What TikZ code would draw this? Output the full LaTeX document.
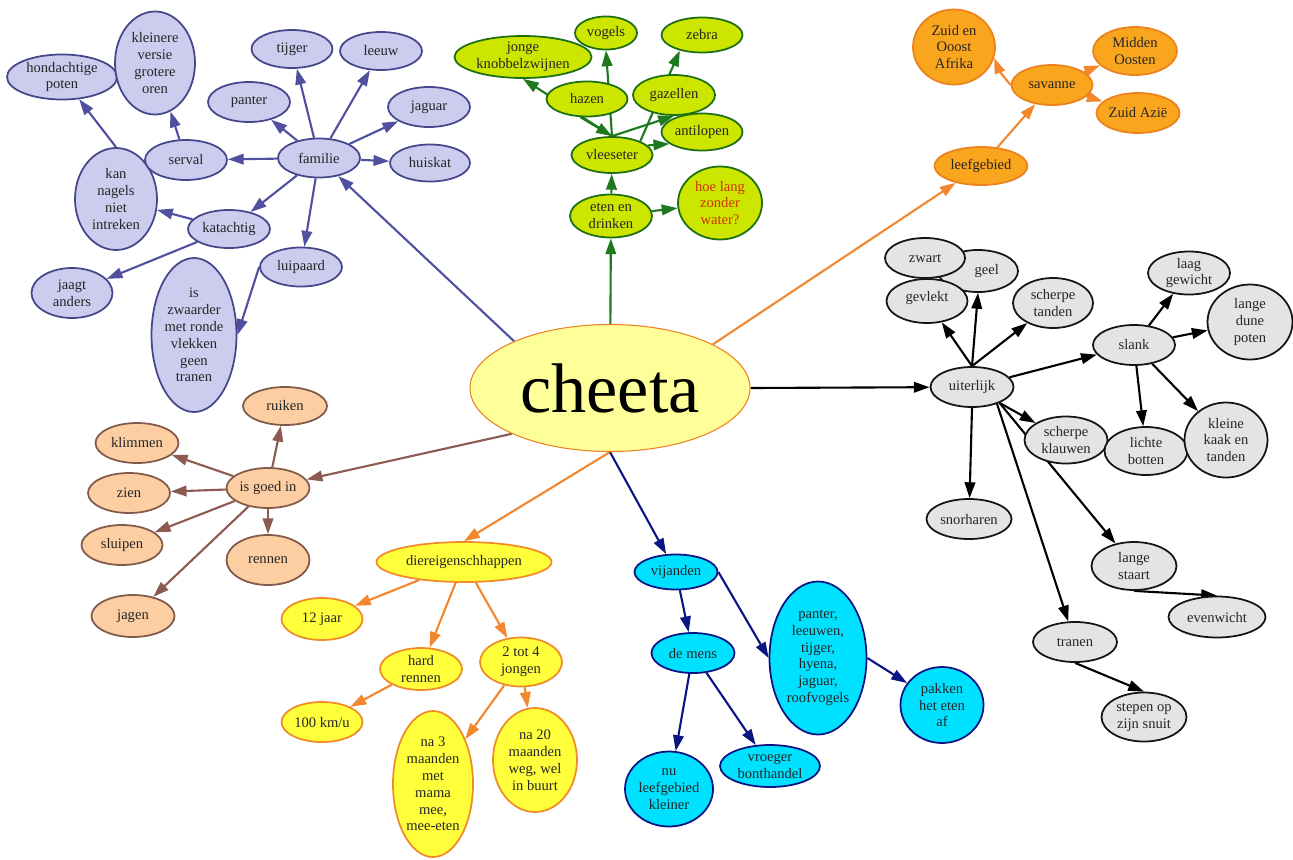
\documentclass[tikz,border=0pt]{standalone}
\usepackage{fontspec}
\setmainfont{Liberation Serif}
\usetikzlibrary{shapes.geometric,arrows.meta,backgrounds}
\definecolor{puF}{RGB}{204,204,238}
\definecolor{puD}{RGB}{70,70,140}
\definecolor{puE}{RGB}{80,80,160}
\definecolor{grF}{RGB}{204,230,0}
\definecolor{grD}{RGB}{30,110,20}
\definecolor{grE}{RGB}{30,120,30}
\definecolor{orF}{RGB}{250,165,30}
\definecolor{orD}{RGB}{235,130,30}
\definecolor{orE}{RGB}{242,135,45}
\definecolor{gyF}{RGB}{228,228,228}
\definecolor{gyD}{RGB}{20,20,20}
\definecolor{peF}{RGB}{252,206,162}
\definecolor{peD}{RGB}{130,90,75}
\definecolor{peE}{RGB}{140,90,80}
\definecolor{yeF}{RGB}{255,255,60}
\definecolor{yeD}{RGB}{240,140,40}
\definecolor{chF}{RGB}{255,255,153}
\definecolor{cyF}{RGB}{0,225,255}
\definecolor{cyD}{RGB}{10,20,130}
\definecolor{redT}{RGB}{210,50,10}
\tikzset{
  base/.style={ellipse, inner sep=0pt, align=center, font=\fontsize{8.3}{9.6}\selectfont, text=black!85, line width=1pt},
  sz/.style 2 args={minimum width={#1*0.02cm}, minimum height={#2*0.02cm}},
  pu/.style={base, draw=puD, fill=puF},
  gr/.style={base, draw=grD, fill=grF},
  orn/.style={base, draw=orD, fill=orF},
  gy/.style={base, draw=gyD, fill=gyF},
  pe/.style={base, draw=peD, fill=peF},
  ye/.style={base, draw=yeD, fill=yeF},
  cy/.style={base, draw=cyD, fill=cyF},
  tip/.style={-{Triangle[length=9pt,width=6pt]}},
  epu/.style={tip, draw=puE, fill=puE, line width=1.2pt},
  egr/.style={tip, draw=grE, fill=grE, line width=1.2pt},
  eor/.style={tip, draw=orE, fill=orE, line width=1.2pt},
  egy/.style={tip, draw=black, fill=black, line width=1.2pt},
  epe/.style={tip, draw=peE, fill=peE, line width=1.2pt},
  eye/.style={tip, draw=orE, fill=orE, line width=1.2pt},
  ecy/.style={tip, draw=cyD, fill=cyD, line width=1.2pt},
}
\begin{document}
\begin{tikzpicture}[x=0.02cm,y=-0.02cm]
\useasboundingbox (0,0) rectangle (1293,859);
% centre
\node[ellipse, draw=orD, fill=chF, line width=0.6pt, inner sep=0pt, sz={280}{127}, font=\fontsize{40}{44}\selectfont] (ch) at (610,388) {cheeta};
% purple
\node[pu,sz={110}{45}] (hond) at (62,77) {hondachtige\\poten};
\node[pu,sz={80}{103}] (klein) at (155,63) {kleinere\\versie\\grotere\\oren};
\node[pu,sz={81}{38}] (tij) at (292,49) {tijger};
\node[pu,sz={82}{38}] (leeuw) at (381,51) {leeuw};
\node[pu,sz={82}{40}] (pant) at (249,102) {panter};
\node[pu,sz={82}{40}] (jag1) at (429,107) {jaguar};
\node[pu,sz={80}{37}] (huis) at (430,163) {huiskat};
\node[pu,sz={82}{102}] (kan) at (116,199) {kan\\nagels\\niet\\intreken};
\node[pu,sz={82}{40}] (serv) at (186,160) {serval};
\node[pu,sz={82}{39}] (fam) at (319,158) {familie};
\node[pu,sz={82}{38}] (kat) at (229,229) {katachtig};
\node[pu,sz={82}{39}] (luip) at (301,267) {luipaard};
\node[pu,sz={81}{50}] (jaagt) at (72,293) {jaagt\\anders};
\node[pu,sz={85}{154}] (zw) at (194,335) {is\\zwaarder\\met ronde\\vlekken\\geen\\tranen};
% green
\node[gr,sz={137}{42}] (jk) at (523,57) {jonge\\knobbelzwijnen};
\node[gr,sz={62}{33}] (vog) at (606,33) {vogels};
\node[gr,sz={81}{35}] (zeb) at (702,35) {zebra};
\node[gr,sz={81}{35}] (haz) at (587,99) {hazen};
\node[gr,sz={82}{40}] (gaz) at (674,95) {gazellen};
\node[gr,sz={81}{37}] (ant) at (702,132) {antilopen};
\node[gr,sz={81}{36}] (vle) at (612,155) {vleeseter};
\node[gr,sz={82}{43}] (eten) at (611,216) {eten en\\drinken};
\node[gr,sz={84}{73},text=redT] (hoe) at (720,203) {hoe lang\\zonder\\water?};
% orange
\node[orn,sz={82}{75}] (zoa) at (954,47) {Zuid en\\Ooost\\Afrika};
\node[orn,sz={84}{48}] (mo) at (1135,51) {Midden\\Oosten};
\node[orn,sz={81}{40}] (sav) at (1052,85) {savanne};
\node[orn,sz={83}{40}] (za) at (1138,113) {Zuid Azië};
\node[orn,sz={93}{38}] (leef) at (981,166) {leefgebied};
% gray
\node[gy,sz={80}{42}] (geel) at (978,271) {\hspace*{1.2em}geel};
\node[gy,sz={80}{40}] (zwart) at (925,258) {zwart};
\node[gy,sz={81}{44}] (gevl) at (927,301) {gevlekt\\[-0.5em]};
\node[gy,sz={80}{50}] (st) at (1053,303) {scherpe\\tanden};
\node[gy,sz={82}{43}] (lg) at (1189,273) {laag\\gewicht};
\node[gy,sz={85}{75}] (ldp) at (1250,322) {lange\\dune\\poten};
\node[gy,sz={82}{40}] (slank) at (1134,345) {slank};
\node[gy,sz={83}{40}] (uit) at (972,387) {uiterlijk};
\node[gy,sz={83}{47}] (sk) at (1066,440) {scherpe\\klauwen};
\node[gy,sz={83}{48}] (lb) at (1146,451) {lichte\\botten};
\node[gy,sz={83}{75}] (kk) at (1226,440) {kleine\\kaak en\\tanden};
\node[gy,sz={85}{40}] (snor) at (969,519) {snorharen};
\node[gy,sz={85}{48}] (ls) at (1134,566) {lange\\staart};
\node[gy,sz={97}{41}] (ev) at (1217,617) {evenwicht};
\node[gy,sz={84}{40}] (tr) at (1075,642) {tranen};
\node[gy,sz={85}{49}] (stp) at (1144,717) {stepen op\\zijn snuit};
% peach
\node[pe,sz={84}{38}] (ruik) at (285,406) {ruiken};
\node[pe,sz={83}{40}] (klim) at (137,443) {klimmen};
\node[pe,sz={83}{40}] (goed) at (268,488) {is goed in};
\node[pe,sz={82}{40}] (zien) at (129,493) {zien};
\node[pe,sz={81}{40}] (sluip) at (122,545) {sluipen};
\node[pe,sz={83}{50}] (renn) at (268,560) {rennen};
\node[pe,sz={83}{42}] (jagen) at (133,616) {jagen};
% yellow
\node[ye,sz={175}{40}] (dier) at (464,562) {diereigenschhappen};
\node[ye,sz={81}{42}] (jaar) at (322,619) {12 jaar};
\node[ye,sz={82}{42}] (hr) at (421,669) {hard\\rennen};
\node[ye,sz={82}{49}] (tot) at (521,662) {2 tot 4\\jongen};
\node[ye,sz={81}{40}] (kmu) at (322,722) {100 km/u};
\node[ye,sz={80}{146}] (na3) at (433,784) {na 3\\maanden\\met\\mama\\mee,\\mee-eten};
\node[ye,sz={84}{104}] (na20) at (535,760) {na 20\\maanden\\weg, wel\\in buurt};
% cyan
\node[cy,sz={83}{35}] (vij) at (676,572) {vijanden};
\node[cy,sz={83}{40}] (mens) at (693,653) {de mens};
\node[cy,sz={97}{153}] (pan2) at (818,658) {panter,\\leeuwen,\\tijger,\\hyena,\\jaguar,\\roofvogels};
\node[cy,sz={83}{76}] (pak) at (942,705) {pakken\\het eten\\af};
\node[cy,sz={88}{75}] (nu) at (669,789) {nu\\leefgebied\\kleiner};
\node[cy,sz={100}{42}] (vroeg) at (770,766) {vroeger\\bonthandel};

\begin{scope}[on background layer]
\fill[white] (0,0) rectangle (1293,859);
% purple
\draw[epu] (ch.154) -- (fam);
\draw[epu] (fam) -- (tij);
\draw[epu] (fam) -- (leeuw);
\draw[epu] (fam) -- (pant);
\draw[epu] (fam) -- (jag1);
\draw[epu] (fam) -- (huis);
\draw[epu] (fam) -- (serv);
\draw[epu] (fam) -- (kat);
\draw[epu] (fam) -- (luip);
\draw[epu] (serv) -- (klein);
\draw[epu] (kan.north) -- (hond);
\draw[epu] (kat) -- (kan);
\draw[epu] (kat) -- (jaagt);
\draw[epu] (luip.west) -- (zw.east);
% green
\draw[egr] (ch) -- (eten);
\draw[egr] (eten) -- (vle);
\draw[egr] (eten) -- (hoe);
\draw[egr] (vle.north) -- (vog.south);
\draw[egr] (vle.north) -- (jk.south);
\draw[egr] (haz.250) -- (vle.north);
\draw[egr] (vle.north) -- (gaz.south);
\draw[egr] (vle.26) -- (zeb.215);
\draw[egr] (vle.15) -- (ant.200);
% orange
\draw[eor] (ch.23) -- (leef);
\draw[eor] (leef) -- (sav);
\draw[eor] (sav.west) to[bend left=10] (zoa.-15);
\draw[eor] (sav) -- (mo);
\draw[eor] (sav) -- (za);
% gray
\draw[egy] (ch.east) -- (uit);
\draw[egy] (uit.north) -- (gevl);
\draw[egy] (uit.north) -- (geel.south);
\draw[egy] (uit.north) -- (st);
\draw[egy] (uit) -- (slank);
\draw[egy] (slank) -- (lg);
\draw[egy] (slank) -- (ldp);
\draw[egy] (slank) -- (lb);
\draw[egy] (slank) -- (kk);
\draw[egy] (uit.-30) -- (sk);
\draw[egy] (uit.south) -- (snor);
\draw[egy] (uit.-30) -- (ls);
\draw[egy] (uit.-34) -- (tr);
\draw[egy] (ls.south) -- (ev.north);
\draw[egy] (tr.south) -- (stp.north);
% peach
\draw[epe] (ch.205) -- (goed);
\draw[epe] (goed) -- (ruik);
\draw[epe] (goed) -- (klim);
\draw[epe] (goed) -- (zien);
\draw[epe] (goed) -- (sluip);
\draw[epe] (goed) -- (renn);
\draw[epe] (goed) -- (jagen);
% yellow
\draw[eye] (ch.south) -- (dier.north);
\draw[eye] (dier) -- (jaar);
\draw[eye] (dier) -- (hr);
\draw[eye] (dier) -- (tot);
\draw[eye] (hr) -- (kmu);
\draw[eye] (tot) -- (na3);
\draw[eye] (tot) -- (na20);
% cyan
\draw[ecy] (ch.south) -- (vij);
\draw[ecy] (vij) -- (mens);
\draw[ecy] (vij.east) -- (pan2.west);
\draw[ecy] (mens) -- (nu);
\draw[ecy] (mens) -- (vroeg);
\draw[ecy] (pan2.east) -- (pak);
\end{scope}
\end{tikzpicture}
\end{document}
